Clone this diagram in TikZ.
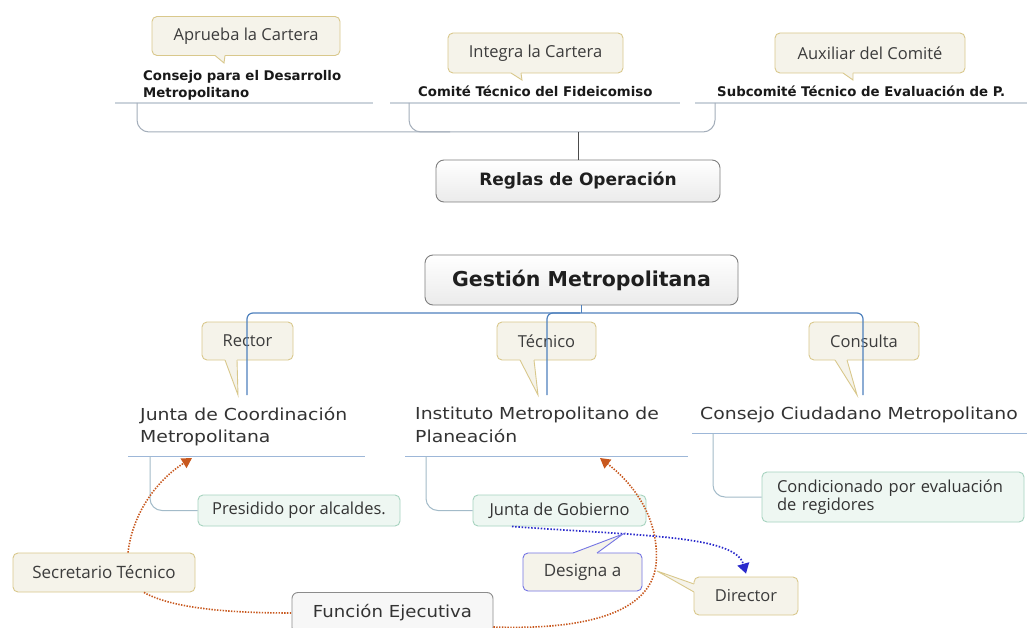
\documentclass[tikz,border=0pt]{standalone}
\usepackage{fontspec}
\setmainfont{Open Sans}
\newfontfamily\dejavu{DejaVu Sans}
\newfontfamily\widesans{DejaVu Sans}[FakeStretch=1.14]
\newfontfamily\midsans{DejaVu Sans}[FakeStretch=1.1]
\usetikzlibrary{arrows.meta}
\definecolor{cfill}{HTML}{F5F3EA}
\definecolor{cborder}{HTML}{D9C88C}
\definecolor{ctext}{HTML}{3C3C3C}
\definecolor{topul}{HTML}{CBD3DB}
\definecolor{bracec}{HTML}{A4AEBA}
\definecolor{boxborder}{HTML}{7F7F7F}
\definecolor{blueline}{HTML}{4F81BD}
\definecolor{nodeul}{HTML}{9DB7D8}
\definecolor{subline}{HTML}{A3BBC9}
\definecolor{gfill}{HTML}{EEF7F2}
\definecolor{gborder}{HTML}{A6D3BF}
\definecolor{orangec}{HTML}{C8581E}
\definecolor{bluedot}{HTML}{2B2BCC}
\definecolor{designb}{HTML}{7474E4}
\definecolor{maintext}{HTML}{333333}
\newcommand\ptr[6][cborder]{%
  \fill[cfill] (#2,#5) -- (#2,#4) -- (#6) -- (#3,#4) -- (#3,#5) -- cycle;
  \draw[#1,line width=.9pt] (#2,#4) -- (#6) -- (#3,#4);}
\begin{document}
\begin{tikzpicture}[x=1pt,y=-1pt,
  callout/.style={draw=cborder, fill=cfill, rounded corners=5pt, line width=.9pt,
    inner sep=0pt, text=ctext, font=\fontsize{16.5}{19}\selectfont},
  toplab/.style={inner sep=0pt, align=left, text=black!90,
    font=\dejavu\bfseries\fontsize{13.3}{17}\selectfont},
  mainbox/.style={draw=boxborder, rounded corners=8pt, top color=white,
    bottom color=black!8, line width=.9pt, text=black!88, inner sep=0pt},
  mainlab/.style={inner sep=0pt, align=left, text=maintext,
    font=\widesans\fontsize{16.5}{22.5}\selectfont},
  greenbox/.style={draw=gborder, fill=gfill, rounded corners=5pt, line width=.9pt,
    inner sep=0pt, text=maintext, font=\fontsize{16.5}{18}\selectfont},
  ulline/.style={nodeul, line width=1pt},
  orangedot/.style={orangec, line width=1.6pt, dash pattern=on 1.4pt off 1.4pt},
  bluedotline/.style={bluedot, line width=1.7pt, dash pattern=on 1.5pt off 1.7pt},
]
\useasboundingbox[fill=white] (0,0) rectangle (1027,628);

% ---------- top section ----------
\node[toplab, anchor=north west] (cdm) at (143,70) {Consejo para el Desarrollo\\Metropolitano};
\node[toplab, anchor=base west] (ctf) at (418,97) {Comité Técnico del Fideicomiso};
\node[toplab, anchor=base west] (stp) at (717,97) {Subcomité Técnico de Evaluación de P.};
\draw[topul, line width=1.2pt] (115,103) -- (373,103);
\draw[topul, line width=1.2pt] (390,103) -- (680,103);
\draw[topul, line width=1.2pt] (695,103) -- (1027,103);

\node[callout, minimum width=188pt, minimum height=39pt] (aprueba) at (246,36) {Aprueba la Cartera};
\ptr{215}{225}{55.5}{54}{224,63}
\node[callout, minimum width=175pt, minimum height=40pt] (integra) at (535.5,53) {Integra la Cartera};
\ptr{511}{521}{73}{71.5}{522,80}
\node[callout, minimum width=190pt, minimum height=40pt] (auxiliar) at (870,53) {Auxiliar del Comité};
\ptr{843}{853}{73}{71.5}{853,80}

\node[mainbox, minimum width=284pt, minimum height=42pt,
  font=\dejavu\bfseries\fontsize{17}{20}\selectfont] (reglas) at (578,181) {Reglas de Operación};

\draw[bracec, line width=1pt, rounded corners=12pt] (137,103) -- (137,132) -- (715,132) -- (715,103);
\draw[bracec, line width=1pt, rounded corners=12pt] (409,103) -- (409,132) -- (450,132);
\draw[black!70, line width=1pt] (reglas.north) -- (reglas.north |- 0,132);

% ---------- Gestión ----------
\node[mainbox, minimum width=313pt, minimum height=50pt,
  font=\dejavu\bfseries\fontsize{20.5}{23}\selectfont] (gest) at (581.5,280) {Gestión Metropolitana};

\node[callout, minimum width=91pt, minimum height=38pt] (rector) at (247.5,341) {Rector};
\ptr{225}{237}{360}{358.5}{238,395}
\node[callout, minimum width=99pt, minimum height=38pt] (tecnico) at (546.5,341) {Técnico};
\ptr{520}{534}{360}{358.5}{538,395}
\node[callout, minimum width=110pt, minimum height=38pt] (consulta) at (864,341) {Consulta};
\ptr{835}{847}{360}{358.5}{857,395}

\draw[blueline, line width=1.2pt] (gest.south) -- (gest.south |- 0,313);
\draw[blueline, line width=1.2pt, rounded corners=6pt] (247,395) -- (247,313) -- (863,313) -- (863,395);
\draw[blueline, line width=1.2pt, rounded corners=6pt] (547,395) -- (547,313) -- (580,313);

% ---------- second level ----------
\node[mainlab, anchor=north west] (jcm) at (140,407) {Junta de Coordinación\\Metropolitana};
\node[mainlab, anchor=north west] (imp) at (415,407) {Instituto Metropolitano de\\Planeación};
\node[mainlab, anchor=north west] (ccm) at (700,407) {Consejo Ciudadano Metropolitano};
\draw[ulline] (128,456) -- (365,456);
\draw[ulline] (405,456) -- (688,456);
\draw[ulline] (692,433) -- (1027,433);
\coordinate (jcmarrow) at (192,458);
\coordinate (imparrow) at (600,458);

\node[greenbox, minimum width=202pt, minimum height=31pt] (pres) at (299,510.5) {Presidido por alcaldes.};
\node[greenbox, minimum width=173pt, minimum height=31pt] (jgob) at (559.5,510.5) {Junta de Gobierno};
\node[greenbox, minimum width=262pt, minimum height=50pt, text width=232pt, align=left,
  font=\fontsize{16.5}{18.5}\selectfont] (cond) at (893,497) {Condicionado por evaluación\\de regidores};
\draw[subline, line width=1pt, rounded corners=12pt] (150,456) -- (150,510.5) -- (pres.west);
\draw[subline, line width=1pt, rounded corners=12pt] (426,456) -- (426,510.5) -- (jgob.west);
\draw[subline, line width=1pt, rounded corners=12pt] (713,433) -- (713,497) -- (cond.west);

% ---------- bottom ----------
\node[callout, minimum width=182pt, minimum height=39pt, font=\fontsize{17}{19}\selectfont] (sec) at (104,572.5) {Secretario Técnico};
\node[draw=black!45, fill=black!3, rounded corners=6pt, line width=.9pt, inner sep=0pt,
  minimum width=201pt, minimum height=41pt, text=maintext, font=\midsans\fontsize{16.5}{19}\selectfont] (func) at (392.5,613) {Función Ejecutiva};
\node[callout, draw=designb, minimum width=119pt, minimum height=38pt, font=\fontsize{17}{19}\selectfont] (designa) at (582.5,572) {Designa a};
\node[callout, minimum width=104pt, minimum height=38pt] (director) at (746,596) {Director};
\fill[cfill] (695.5,584) -- (694,584) -- (657,571) -- (694,592) -- (695.5,592) -- cycle;
\draw[cborder, line width=.9pt] (694,584) -- (657,571) -- (694,592);

% dotted relations
\draw[orangedot, -{Triangle[length=10pt,width=11pt]}] ([xshift=24pt]sec.north)
  .. controls (133,510) and (160,478) .. (jcmarrow);
\draw[orangedot] ([xshift=40pt]sec.south) .. controls (175,610) and (240,613) .. (func.west);
\draw[orangedot, -{Triangle[length=10pt,width=11pt]}] ([yshift=-14pt]func.east)
  .. controls (580,630) and (650,615) .. (656,565)
  .. controls (660,520) and (635,485) .. (imparrow);
\draw[bluedotline, -{Triangle[length=10pt,width=12pt]}] ([xshift=-47.5pt]jgob.south)
  .. controls (640,536) and (735,535) .. ([yshift=3pt]director.north);
\ptr[designb]{573}{597}{553}{554.5}{623,534}
\end{tikzpicture}
\end{document}
